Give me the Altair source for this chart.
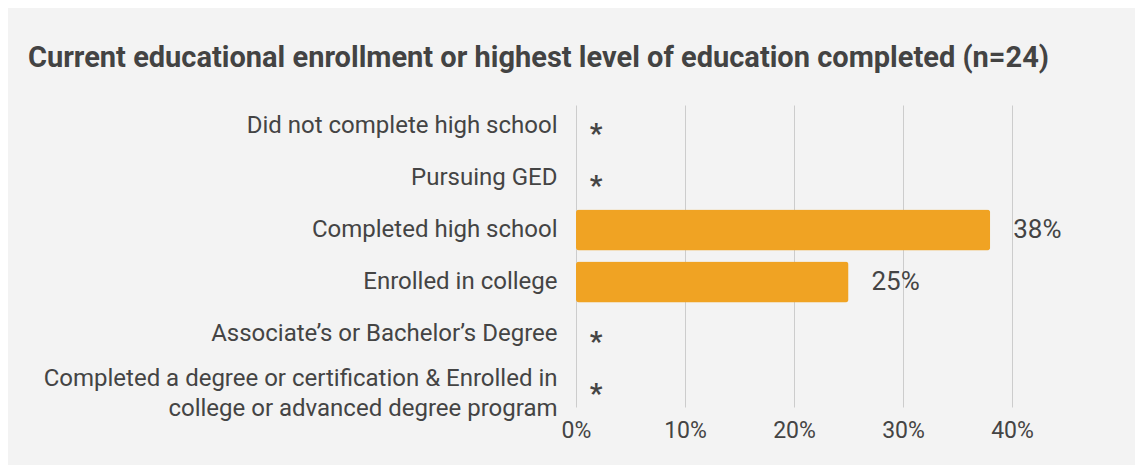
import altair as alt
import pandas as pd

categories = [
    "Did not complete high school",
    "Pursuing GED",
    "Completed high school",
    "Enrolled in college",
    "Associate\u2019s or Bachelor\u2019s Degree",
    "Completed a degree or certification & Enrolled in\ncollege or advanced degree program",
]
values = [None, None, 0.38, 0.25, None, None]
value_labels = ["*", "*", "38%", "25%", "*", "*"]

df = pd.DataFrame({"category": categories, "value": values, "label": value_labels})

TEXT = "#444444"
FONT = "Roboto"

y_enc = alt.Y(
    "category:N",
    sort=categories,
    title=None,
    scale=alt.Scale(paddingInner=0.21, paddingOuter=0.01),
    axis=alt.Axis(
        labelExpr="split(datum.label, '\\n')",
        labelFontSize=24,
        labelColor=TEXT,
        labelFont=FONT,
        labelPadding=19,
        labelLineHeight=30,
        labelLimit=1000,
        labelOffset={"condition": {"test": "indexof(datum.value, '\\n') >= 0", "value": -7}, "value": 0},
        ticks=False,
        domain=False,
        grid=False,
    ),
)

x_enc = alt.X(
    "value:Q",
    title=None,
    scale=alt.Scale(domain=[0, 0.4], nice=False),
    axis=alt.Axis(
        format=".0%",
        values=[0, 0.1, 0.2, 0.3, 0.4],
        labelFontSize=23,
        labelColor=TEXT,
        labelFont=FONT,
        labelPadding=12,
        labelFlush=False,
        ticks=False,
        domain=False,
        grid=True,
        gridColor="#cccccc",
        gridWidth=1,
    ),
)

base = alt.Chart(df)

bars = base.transform_filter("datum.value != null").mark_bar(
    color="#f0a323", cornerRadius=3
).encode(x=x_enc, y=y_enc)

value_text = base.transform_filter("datum.value != null").mark_text(
    align="left", baseline="middle", dx=23, fontSize=26, font=FONT, color=TEXT
).encode(x=alt.X("value:Q"), y=alt.Y("category:N", sort=categories), text="label:N")

stars = base.transform_filter("datum.value == null").transform_calculate(
    zero="0"
).mark_text(
    align="center", baseline="alphabetic", dx=20, dy=17, fontSize=28,
    fontWeight="bold", font=FONT, color=TEXT
).encode(x=alt.X("zero:Q"), y=alt.Y("category:N", sort=categories), text="label:N")

chart = (
    alt.layer(bars, value_text, stars)
    .properties(
        width=436,
        height=302,
        autosize=alt.AutoSizeParams(type="none"),
        padding={"left": 568, "right": 123, "top": 97, "bottom": 58},
        background="#f3f3f3",
        title=alt.TitleParams(
            "Current educational enrollment or highest level of education completed (n=24)",
            anchor="start",
            frame="group",
            dx=-548,
            offset=32,
            fontSize=29,
            fontWeight="bold",
            font=FONT,
            color="#434343",
        ),
    )
    .configure_view(stroke=None)
)

chart.save("out.html", embed_options={"renderer": "svg", "actions": False})
